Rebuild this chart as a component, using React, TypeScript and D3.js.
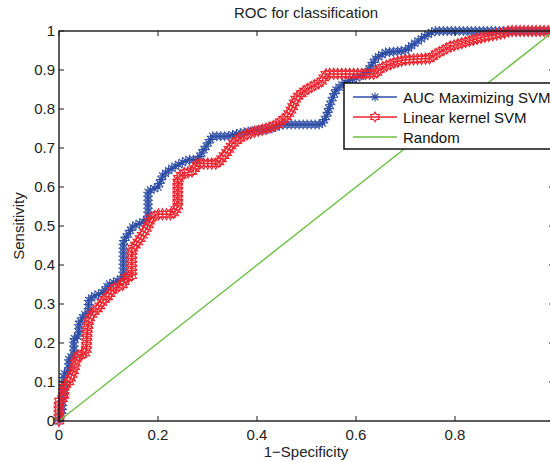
import React, { useRef, useEffect } from "react";
import * as d3 from "d3";

// values
const aucFpr = [0, 0.005, 0.01, 0.01, 0.02, 0.02, 0.03, 0.03, 0.04, 0.04, 0.05, 0.06, 0.06, 0.07, 0.09, 0.1, 0.12, 0.13, 0.13, 0.14, 0.15, 0.17, 0.18, 0.18, 0.2, 0.21, 0.23, 0.26, 0.28, 0.29, 0.3, 0.31, 0.34, 0.37, 0.43, 0.45, 0.53, 0.54, 0.55, 0.56, 0.58, 0.6, 0.62, 0.64, 0.66, 0.7, 0.72, 0.75, 0.76, 1.0];
const aucTpr = [0, 0.02, 0.08, 0.12, 0.13, 0.16, 0.17, 0.21, 0.22, 0.25, 0.27, 0.28, 0.31, 0.32, 0.33, 0.35, 0.36, 0.37, 0.46, 0.48, 0.5, 0.51, 0.52, 0.59, 0.6, 0.63, 0.65, 0.67, 0.67, 0.69, 0.71, 0.73, 0.73, 0.74, 0.75, 0.76, 0.76, 0.78, 0.82, 0.85, 0.87, 0.88, 0.89, 0.93, 0.945, 0.95, 0.97, 0.995, 1, 1];

const linFpr = [0, 0, 0.01, 0.01, 0.02, 0.03, 0.035, 0.04, 0.05, 0.055, 0.057, 0.06, 0.07, 0.08, 0.09, 0.1, 0.11, 0.13, 0.135, 0.147, 0.147, 0.16, 0.18, 0.185, 0.2, 0.23, 0.24, 0.24, 0.25, 0.27, 0.28, 0.32, 0.34, 0.35, 0.37, 0.39, 0.42, 0.44, 0.46, 0.47, 0.48, 0.5, 0.53, 0.54, 0.64, 0.65, 0.68, 0.7, 0.75, 0.76, 0.79, 0.83, 0.86, 0.9, 0.91, 1.0];
const linTpr = [0, 0.05, 0.06, 0.09, 0.1, 0.13, 0.16, 0.17, 0.17, 0.18, 0.23, 0.26, 0.28, 0.29, 0.31, 0.32, 0.34, 0.35, 0.37, 0.37, 0.44, 0.46, 0.5, 0.52, 0.53, 0.53, 0.55, 0.62, 0.635, 0.64, 0.66, 0.66, 0.69, 0.71, 0.73, 0.74, 0.75, 0.76, 0.78, 0.8, 0.83, 0.85, 0.87, 0.89, 0.89, 0.905, 0.92, 0.926, 0.93, 0.94, 0.96, 0.975, 0.985, 0.995, 1, 1];

const randFpr = [0, 1];
const randTpr = [0, 1];

const xTicks = [0, 0.2, 0.4, 0.6, 0.8, 1];
const xTickLabels = ["0", "0.2", "0.4", "0.6", "0.8", ""]; // last one falls outside the picture
const yTicks = [0, 0.1, 0.2, 0.3, 0.4, 0.5, 0.6, 0.7, 0.8, 0.9, 1];
const yTickLabels = ["0", "0.1", "0.2", "0.3", "0.4", "0.5", "0.6", "0.7", "0.8", "0.9", "1"];
const legendLabels = ["AUC Maximizing SVM", "Linear kernel SVM", "Random"];

const BLUE = "#2f4fa6";
const RED = "#ee2530";
const GREEN = "#6cbf45";
const FONT = "'Liberation Sans', Arial, Helvetica, sans-serif";

function asterisk(r: number) {
  const d = r * 0.72;
  return `M${-r},0L${r},0M0,${-r}L0,${r}M${-d},${-d}L${d},${d}M${-d},${d}L${d},${-d}`;
}

function hexagram(ro: number, ri: number) {
  const pts: [number, number][] = [];
  for (let i = 0; i < 12; i++) {
    const a = -Math.PI / 2 + (i * Math.PI) / 6;
    const r = i % 2 === 0 ? ro : ri;
    pts.push([r * Math.cos(a), r * Math.sin(a)]);
  }
  return "M" + pts.map((p) => p.join(",")).join("L") + "Z";
}

function RocChart() {
  const svgRef = useRef<SVGSVGElement>(null);

  useEffect(() => {
    const svg = d3.select(svgRef.current);
    svg.selectAll("*").remove();

    const x = d3.scaleLinear().domain([0, 1]).range([59, 554]);
    const y = d3.scaleLinear().domain([0, 1]).range([421, 31]);

    const line = d3
      .line<[number, number]>()
      .x((d) => x(d[0]))
      .y((d) => y(d[1]));

    // curve with markers along it (markers are dense in the original)
    const drawCurve = (xs: number[], ys: number[], color: string, marker: string | null, step: number, sw: number) => {
      const pts = xs.map((v, i) => [v, ys[i]] as [number, number]);
      const path = svg
        .append("path")
        .attr("d", line(pts))
        .attr("fill", "none")
        .attr("stroke", color)
        .attr("stroke-width", marker ? 1.5 : 1.4);
      if (!marker) return;
      const node = path.node() as SVGPathElement;
      const len = node.getTotalLength();
      const g = svg.append("g");
      for (let s = 0; s <= len; s += step) {
        const p = node.getPointAtLength(s);
        g.append("path")
          .attr("d", marker)
          .attr("transform", `translate(${p.x},${p.y})`)
          .attr("fill", "none")
          .attr("stroke", color)
          .attr("stroke-width", sw);
      }
    };

    drawCurve(aucFpr, aucTpr, BLUE, asterisk(5), 4, 1.1);
    drawCurve(linFpr, linTpr, RED, hexagram(5.6, 3.2), 4, 1.1);
    drawCurve(randFpr, randTpr, GREEN, null, 0, 0);

    // axes box
    svg.append("rect")
      .attr("x", 59).attr("y", 31)
      .attr("width", 495).attr("height", 390)
      .attr("fill", "none").attr("stroke", "#1a1a1a").attr("stroke-width", 1.4);

    const tl = 5;
    xTicks.forEach((t, i) => {
      svg.append("line").attr("x1", x(t)).attr("x2", x(t)).attr("y1", 421).attr("y2", 421 - tl).attr("stroke", "#1a1a1a");
      svg.append("line").attr("x1", x(t)).attr("x2", x(t)).attr("y1", 31).attr("y2", 31 + tl).attr("stroke", "#1a1a1a");
      if (xTickLabels[i]) {
        svg.append("text")
          .attr("x", x(t)).attr("y", 440)
          .attr("text-anchor", "middle")
          .attr("font-family", FONT).attr("font-size", 15).attr("fill", "#222")
          .text(xTickLabels[i]);
      }
    });
    yTicks.forEach((t, i) => {
      svg.append("line").attr("x1", 59).attr("x2", 59 + tl).attr("y1", y(t)).attr("y2", y(t)).attr("stroke", "#1a1a1a");
      svg.append("line").attr("x1", 554).attr("x2", 554 - tl).attr("y1", y(t)).attr("y2", y(t)).attr("stroke", "#1a1a1a");
      svg.append("text")
        .attr("x", 55).attr("y", y(t) + 5)
        .attr("text-anchor", "end")
        .attr("font-family", FONT).attr("font-size", 15).attr("fill", "#222")
        .text(yTickLabels[i]);
    });

    svg.append("text")
      .attr("x", 306).attr("y", 18)
      .attr("text-anchor", "middle")
      .attr("font-family", FONT).attr("font-size", 15).attr("fill", "#222")
      .text("ROC for classification");
    svg.append("text")
      .attr("x", 306).attr("y", 457)
      .attr("text-anchor", "middle")
      .attr("font-family", FONT).attr("font-size", 15).attr("fill", "#222")
      .text("1\u2212Specificity");
    svg.append("text")
      .attr("transform", "translate(24,226) rotate(-90)")
      .attr("text-anchor", "middle")
      .attr("font-family", FONT).attr("font-size", 15).attr("fill", "#222")
      .text("Sensitivity");

    // legend
    const lg = svg.append("g");
    lg.append("rect")
      .attr("x", 344).attr("y", 83)
      .attr("width", 230).attr("height", 66)
      .attr("fill", "white").attr("stroke", "#111").attr("stroke-width", 1.5);
    const colors = [BLUE, RED, GREEN];
    const marks = [asterisk(4.5), hexagram(5, 2.9), null];
    legendLabels.forEach((lab, i) => {
      const ly = 97 + i * 20;
      lg.append("line").attr("x1", 353).attr("x2", 397).attr("y1", ly).attr("y2", ly)
        .attr("stroke", colors[i]).attr("stroke-width", 1.3);
      if (marks[i]) {
        lg.append("path").attr("d", marks[i]!).attr("transform", `translate(375,${ly})`)
          .attr("fill", "none").attr("stroke", colors[i]).attr("stroke-width", 1.1);
      }
      lg.append("text")
        .attr("x", 403).attr("y", ly + 5.5)
        .attr("font-family", FONT).attr("font-size", 15).attr("fill", "#111")
        .text(lab);
    });
  }, []);

  return (
    <svg
      ref={svgRef}
      width={550}
      height={462}
      style={{ position: "absolute", left: 0, top: 0, background: "white" }}
    />
  );
}

export default function App() {
  return <RocChart />;
}
